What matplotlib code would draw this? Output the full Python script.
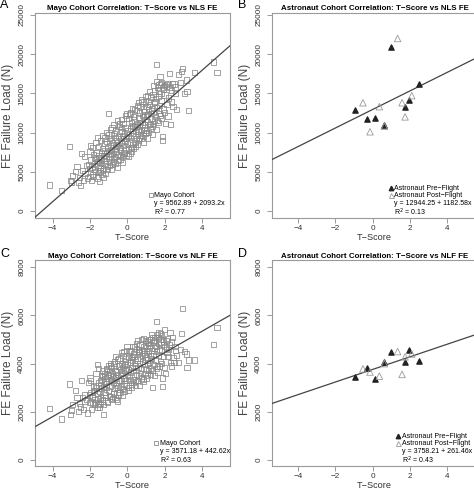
import matplotlib
matplotlib.use("Agg")
import matplotlib.pyplot as plt
from matplotlib.lines import Line2D

plt.rcParams['font.family'] = ['Liberation Sans', 'DejaVu Sans']

# ---------------- data ----------------
mayo_t_1 = [-4.17, -3.55, -3.12, -3.06, -3.0, -2.95, -2.80, -2.62, -2.55, -2.40, -2.30, -2.27, -2.15, -2.10, -2.05,
            -1.97, -1.95, -1.90, -1.85, -1.82, -1.78, -1.75, -1.72, -1.70, -1.65, -1.62, -1.58, -1.57, -1.55, -1.52,
            -1.50, -1.48, -1.45, -1.43, -1.40, -1.38, -1.35, -1.33, -1.30, -1.28, -1.25, -1.22, -1.20, -1.18, -1.15,
            -1.12, -1.10, -1.08, -1.05, -1.02, -1.00, -0.98, -0.95, -0.93, -0.90, -0.88, -0.85, -0.83, -0.80, -0.78,
            -0.75, -0.73, -0.70, -0.68, -0.65, -0.63, -0.60, -0.58, -0.55, -0.53, -0.50, -0.48, -0.45, -0.43, -0.40,
            -0.38, -0.35, -0.33, -0.30, -0.28, -0.25, -0.23, -0.20, -0.18, -0.15, -0.13, -0.10, -0.08, -0.05, -0.03,
            0.00, 0.02, 0.05, 0.07, 0.10, 0.12, 0.15, 0.17, 0.20, 0.22, 0.25, 0.27, 0.30, 0.32, 0.35,
            0.37, 0.40, 0.42, 0.45, 0.47, 0.50, 0.52, 0.55, 0.57, 0.60, 0.62, 0.65, 0.67, 0.70, 0.72,
            0.75, 0.77, 0.80, 0.82, 0.85, 0.87, 0.90, 0.92, 0.95, 0.97, 1.00, 1.02, 1.05, 1.07, 1.10,
            1.12, 1.15, 1.17, 1.20, 1.22, 1.25, 1.27, 1.30, 1.32, 1.35, 1.37, 1.40, 1.42, 1.45, 1.47,
            1.50, 1.52, 1.55, 1.57, 1.60, 1.62, 1.65, 1.67, 1.70, 1.72, 1.75, 1.77, 1.80, 1.82, 1.85,
            1.87, 1.90, 1.92, 1.95, 1.98, 2.02, 2.05, 2.08, 2.12, 2.15, 2.20, 2.25, 2.30, 2.35, 2.40,
            2.45, 2.50, 2.60, 2.75, 2.90, 2.97, 3.05, 3.15, 3.20, 3.28, 3.60, 4.60, 4.80]
mayo_nls_1 = [3300, 2600, 8200, 3900, 3700, 4500, 5000, 3600, 4300, 5200, 6900, 4800, 4200, 5900, 5400,
              8300, 6500, 5600, 4700, 7200, 6100, 5300, 6700, 5000, 7500, 6300, 9400, 5800, 4900, 7000,
              6200, 3800, 6800, 5500, 7400, 6600, 8000, 5200, 4300, 7100, 6400, 8600, 7700, 6000, 6900,
              8900, 7300, 5700, 8100, 12400, 6700, 7600, 9200, 7000, 8300, 6200, 7800, 9700, 8700, 5900,
              7300, 8500, 9900, 6800, 8000, 10300, 7600, 9000, 5500, 8400, 7200, 9500, 10800, 8100, 6600,
              9200, 7900, 10100, 8700, 6200, 9600, 11200, 8300, 7500, 9900, 8900, 10600, 7800, 9300, 11800,
              8600, 10200, 7000, 9700, 12300, 8800, 10500, 9400, 11300, 7600, 9900, 10900, 8500, 12000, 9600,
              10700, 11600, 8200, 10100, 12800, 9200, 11000, 13500, 10400, 9000, 11900, 10800, 12500, 9700, 11300,
              14200, 10300, 12200, 11100, 8800, 13000, 10600, 12700, 11700, 14600, 10000, 12100, 13300, 11400, 9300,
              12900, 14000, 11000, 13600, 12400, 10500, 14500, 11800, 13100, 9800, 14900, 12600, 11200, 13800, 15300,
              12000, 14300, 18700, 13200, 11500, 15700, 12800, 14600, 16100, 13500, 17100, 12200, 15000, 14100, 16400,
              9500, 9000, 15500, 13000, 16000, 14800, 11200, 15900, 13600, 16300, 14400, 17500, 11000, 15400, 16200,
              13300, 16200, 15000, 17400, 17800, 18200, 15000, 16700, 15200, 12800, 17700, 19000, 17700]
mayo_nlf_1 = [2150, 1700, 3150, 1900, 2050, 2300, 2900, 2000, 2350, 2600, 2700, 2450, 1950, 3200, 2700,
              3300, 2800, 2650, 2350, 3050, 2900, 2500, 3100, 2400, 3000, 2750, 3950, 2550, 2300, 3200,
              2850, 2200, 3100, 2600, 3350, 2950, 3450, 2500, 1900, 3050, 2800, 3600, 3250, 2700, 3000,
              3750, 3150, 2450, 3400, 3900, 2900, 3300, 3700, 3050, 3500, 2650, 3350, 3850, 3600, 2550,
              3200, 3450, 4100, 2950, 3400, 3700, 3100, 3650, 2450, 3550, 3000, 3900, 4200, 3300, 2800,
              3750, 3500, 4000, 3600, 2700, 3850, 4350, 3400, 3150, 3950, 3700, 4100, 3300, 3800, 4550,
              3550, 3950, 3000, 3750, 4500, 3450, 4050, 3650, 4250, 3150, 3850, 4150, 3350, 4400, 3700,
              4000, 4300, 3250, 3900, 4600, 3550, 4150, 4950, 3850, 3500, 4450, 4000, 4500, 3600, 4200,
              5000, 3800, 4350, 4100, 3350, 4700, 3950, 4550, 4250, 4950, 3750, 4400, 4650, 4150, 3500,
              4500, 4850, 4050, 4750, 4350, 3800, 5000, 4200, 4550, 3000, 5100, 4400, 3950, 4650, 4950,
              4150, 4750, 5750, 4500, 3900, 5200, 4350, 4850, 5300, 4600, 5000, 4100, 4900, 4550, 5150,
              3050, 3400, 4800, 4300, 5400, 4700, 3600, 4950, 4450, 5050, 4600, 4800, 4050, 4900, 5100,
              4250, 4050, 4550, 4050, 5250, 6300, 4500, 4400, 3850, 4150, 4150, 4800, 5500]

mayo_t_2 = [-2.45, -2.35, -2.20, -2.00, -1.92, -1.88, -1.80, -1.68, -1.60, -1.54, -1.47, -1.42, -1.36, -1.32, -1.26,
            -1.20, -1.16, -1.10, -1.06, -1.00, -0.96, -0.92, -0.86, -0.82, -0.76, -0.72, -0.66, -0.62, -0.56, -0.52,
            -0.46, -0.42, -0.36, -0.32, -0.26, -0.22, -0.16, -0.12, -0.06, -0.02, 0.04, 0.08, 0.14, 0.18, 0.24,
            0.28, 0.34, 0.38, 0.44, 0.48, 0.54, 0.58, 0.64, 0.68, 0.74, 0.78, 0.84, 0.88, 0.94, 0.98,
            1.04, 1.08, 1.14, 1.18, 1.24, 1.28, 1.34, 1.38, 1.44, 1.48, 1.54, 1.58, 1.64, 1.68, 1.74,
            1.78, 1.84, 1.94, 2.00, 2.10, 2.18, 2.28, 2.38, 2.55, 2.65, 2.85, -2.70, -2.50, -2.00, -1.75,
            -0.90, -0.30, 0.30, 0.90, 1.10, 0.60, -0.60, -1.40]
mayo_nls_2 = [7300, 3900, 5800, 7600, 3900, 8100, 4400, 8700, 4200, 8200, 5100, 9000, 4600, 9600, 5400,
              9300, 4800, 10000, 5300, 9700, 5800, 10400, 5300, 10600, 6300, 11000, 6100, 9400, 6900, 11500,
              6400, 11100, 7100, 11700, 6900, 9200, 7300, 12200, 7100, 12400, 7800, 11800, 7300, 12500, 8100,
              13100, 8000, 12900, 8700, 11100, 8500, 13800, 9200, 13300, 9300, 14000, 9600, 12000, 9900, 13900,
              10300, 14700, 10000, 15200, 11000, 12800, 10800, 16000, 11600, 14000, 10400, 16500, 11300, 15300, 12400,
              16200, 11800, 15800, 12600, 16100, 12100, 15700, 13900, 15800, 12900, 16400, 5700, 3200, 4400, 6800,
              7200, 10600, 10800, 11000, 12300, 10200, 8200, 6100]
mayo_nlf_2 = [3300, 2100, 2500, 3400, 2100, 2600, 2900, 3600, 2200, 3800, 2350, 3300, 2450, 3700, 2300,
              3450, 2600, 3800, 2400, 3550, 2650, 3900, 2500, 3300, 2750, 4000, 2600, 4300, 2800, 4150,
              2700, 3900, 3050, 4450, 2950, 4500, 2850, 4200, 3100, 4700, 2900, 4250, 3300, 4550, 3000,
              4300, 3200, 4700, 3100, 4850, 3300, 4500, 3100, 4800, 3400, 4550, 3250, 5050, 3600, 4750,
              3400, 4900, 3700, 5000, 3550, 5200, 3700, 4900, 3500, 5100, 3800, 4700, 3650, 5100, 3900,
              5250, 4000, 5000, 3850, 4650, 4300, 5300, 3900, 4700, 4350, 4600, 2600, 2200, 2400, 2300,
              4000, 3300, 4700, 4400, 4000, 4600, 2500, 3500]

mayo_t = mayo_t_1 + mayo_t_2
mayo_nls = mayo_nls_1 + mayo_nls_2
mayo_nlf = mayo_nlf_1 + mayo_nlf_2

astro_pre_t = [-0.95, -0.32, 0.13, 0.60, 0.97, 1.71, 1.93, 2.47]
astro_pre_nls = [12900, 11700, 11800, 11000, 20900, 13300, 14100, 16200]
astro_pre_nlf = [3450, 3820, 3350, 4080, 4480, 4080, 4580, 4100]

astro_post_t = [-0.52, -0.14, 0.36, 0.63, 1.34, 1.58, 1.74, 2.10]
astro_post_nls = [13800, 10100, 13300, 10800, 22000, 13800, 12000, 14700]
astro_post_nlf = [3780, 3650, 3480, 4000, 4500, 3550, 4280, 4400]

fit_intercept = {"A": 9562.89, "B": 12944.25, "C": 3571.18, "D": 3758.21}
fit_slope = {"A": 2093.2, "B": 1182.58, "C": 442.62, "D": 261.46}
fit_text = {"A": "y = 9562.89 + 2093.2x", "B": "y = 12944.25 + 1182.58x",
            "C": "y = 3571.18 + 442.62x", "D": "y = 3758.21 + 261.46x"}
fit_r2 = {"A": "0.77", "B": "0.13", "C": "0.63", "D": "0.43"}
titles = {
    "A": "Mayo Cohort Correlation: T\u2212Score vs NLS FE",
    "B": "Astronaut Cohort Correlation: T\u2212Score vs NLS FE",
    "C": "Mayo Cohort Correlation: T\u2212Score vs NLF FE",
    "D": "Astronaut Cohort Correlation: T\u2212Score vs NLF FE",
}

# ---------------- layout ----------------
W, H = 474, 491
fig = plt.figure(figsize=(W / 100, H / 100), dpi=100)

def px_axes(l, t, r, b):
    return fig.add_axes([l / W, 1 - b / H, (r - l) / W, (b - t) / H])

boxes = {
    "A": (35, 13, 230, 218),
    "B": (272, 13, 477, 218),
    "C": (35, 260, 230, 466),
    "D": (272, 260, 477, 466),
}
xlims = {"A": (-4.95, 5.5), "C": (-4.95, 5.5), "B": (-5.4, 5.6), "D": (-5.4, 5.6)}
ylims = {"A": (-900, 25250), "B": (-900, 25250), "C": (-250, 8300), "D": (-250, 8300)}
yticks = {"A": [0, 5000, 10000, 15000, 20000, 25000], "B": [0, 5000, 10000, 15000, 20000, 25000],
          "C": [0, 2000, 4000, 6000, 8000], "D": [0, 2000, 4000, 6000, 8000]}
# legend anchor (right px, bottom px)
leg_anchor = {"A": (225, 218), "B": (472, 218), "C": (230, 466), "D": (472, 466)}
xlabel_off = {"A": 20, "B": 20, "C": 19, "D": 19}

frame_c = "#9a9a9a"
pt_c = "#8a8a8a"
fs_tick = 5.9
fs_title = 5.7
fs_leg = 5.0

for key in "ABCD":
    l, t, r, b = boxes[key]
    w, h = r - l, b - t
    ax = px_axes(l, t, r, b)
    ax.set_xlim(*xlims[key])
    ax.set_ylim(*ylims[key])
    for s in ax.spines.values():
        s.set_color(frame_c)
        s.set_linewidth(0.8)
    ax.set_xticks([-4, -2, 0, 2, 4])
    ax.set_yticks(yticks[key])
    ax.set_yticklabels([str(v) for v in yticks[key]], rotation=90, va="center")
    ax.tick_params(axis="both", length=3.5, width=0.7, color=frame_c, labelsize=fs_tick,
                   labelcolor="#333333")
    ax.tick_params(axis="x", pad=1.5)
    ax.tick_params(axis="y", pad=3.5)
    ax.set_xlabel("T\u2212Score", fontsize=6.6, color="#333333", va="center")
    ax.xaxis.set_label_coords(0.5, -xlabel_off[key] / h)
    ax.set_ylabel("FE Failure Load (N)", fontsize=8.6, color="#444444", va="center")
    ax.yaxis.set_label_coords(-27 / w, 0.5)
    ax.set_title(titles[key], fontsize=fs_title, fontweight="bold", pad=1.8)

    a, bb = fit_intercept[key], fit_slope[key]
    x0, x1 = xlims[key]
    ax.plot([x0, x1], [a + bb * x0, a + bb * x1], color="#444444", lw=0.9, zorder=3)

    if key in "AC":
        yv = mayo_nls if key == "A" else mayo_nlf
        ax.scatter(mayo_t, yv, marker="s", s=14, facecolors="none", edgecolors=pt_c,
                   linewidths=0.55, zorder=2)
        handles = [Line2D([], [], marker="s", ls="none", mfc="none", mec=pt_c, ms=3.5, mew=0.6)]
        labels = ["Mayo Cohort"]
    else:
        ypre = astro_pre_nls if key == "B" else astro_pre_nlf
        ypost = astro_post_nls if key == "B" else astro_post_nlf
        ax.scatter(astro_pre_t, ypre, marker="^", s=14, color="#222222", zorder=4)
        ax.scatter(astro_post_t, ypost, marker="^", s=22, facecolors="none",
                   edgecolors="#9a9a9a", linewidths=0.6, zorder=4)
        handles = [Line2D([], [], marker="^", ls="none", color="#222222", ms=3.2),
                   Line2D([], [], marker="^", ls="none", mfc="none", mec="#9a9a9a", ms=3.6, mew=0.6)]
        labels = ["Astronaut Pre\u2212Flight", "Astronaut Post\u2212Flight"]
    handles += [Line2D([], [], ls="none"), Line2D([], [], ls="none")]
    labels += [fit_text[key], "R$^2$ = " + fit_r2[key]]
    rx, by = leg_anchor[key]
    ax.legend(handles, labels, loc="lower right", fontsize=fs_leg, frameon=False,
              handlelength=0.5, handletextpad=0.25, labelspacing=0.02,
              borderpad=0, borderaxespad=0,
              bbox_to_anchor=((rx - l) / w, (b - by) / h))

letters = {"A": (0, -1), "B": (238, -1), "C": (0, 248), "D": (238, 248)}
for k, (lx, ly) in letters.items():
    fig.text(lx / W, 1 - ly / H, k, fontsize=9, va="top", ha="left")

fig.savefig("out.png", dpi=100)
